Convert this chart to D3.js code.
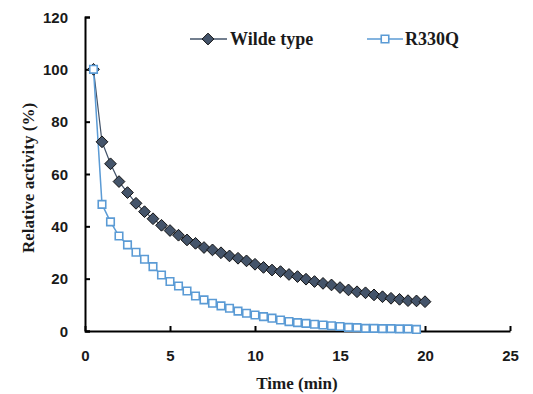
<!DOCTYPE html>
<html>
<head>
<meta charset="utf-8">
<script src="https://cdn.jsdelivr.net/npm/d3@7"></script>
<style>
  body { margin: 0; background: #fff; }
  .tick text { font-family: "Liberation Sans", Arial, sans-serif; font-weight: bold; font-size: 15px; fill: #1a1a1a; }
  .ttl { font-family: "Liberation Serif", "Times New Roman", serif; font-weight: bold; font-size: 17px; fill: #1a1a1a; }
  .leg { font-family: "Liberation Serif", "Times New Roman", serif; font-weight: bold; font-size: 18px; fill: #1a1a1a; }
</style>
</head>
<body>
<div id="chart"></div>
<script>
let w = 533;
let h = 394;

// time points (min)
let timeWT = [0.5,1,1.5,2,2.5,3,3.5,4,4.5,5,5.5,6,6.5,7,7.5,8,8.5,9,9.5,10,
              10.5,11,11.5,12,12.5,13,13.5,14,14.5,15,15.5,16,16.5,17,17.5,18,18.5,19,19.5,20];
let wildType = [100,72.3,63.9,57.1,52.9,48.8,45.6,42.9,40.4,38.4,36.6,34.8,33.5,31.9,31.0,29.9,28.7,27.8,26.8,25.5,
                24.3,23.3,22.7,21.6,20.8,19.8,18.9,18.2,17.6,16.6,15.7,15.0,14.6,13.8,13.1,12.5,12.1,11.6,11.5,11.2];

let timeMut = [0.5,1,1.5,2,2.5,3,3.5,4,4.5,5,5.5,6,6.5,7,7.5,8,8.5,9,9.5,10,
               10.5,11,11.5,12,12.5,13,13.5,14,14.5,15,15.5,16,16.5,17,17.5,18,18.5,19,19.5];
let r330q = [100,48.4,41.7,36.3,32.9,30.1,27.4,24.6,21.4,18.9,17.2,15.3,13.4,11.9,10.6,9.6,8.7,7.6,6.8,6.1,
             5.5,4.9,4.2,3.6,3.2,2.9,2.6,2.3,2.0,1.7,1.4,1.3,1.0,1.0,0.9,0.9,0.8,0.8,0.6];

let xTicks = [0,5,10,15,20,25];
let yTicks = [0,20,40,60,80,100,120];
let seriesNames = ["Wilde type", "R330Q"];

let wtColor = "#44546A";
let mutColor = "#5B9BD5";

let viz = d3.select("#chart")
  .append("svg")
    .attr("width", w)
    .attr("height", h)
;

let x = d3.scaleLinear().domain([0, 25]).range([85, 510]);
let y = d3.scaleLinear().domain([0, 120]).range([331, 17]);

// axes
let xAxis = viz.append("g")
  .attr("transform", "translate(0," + y(0) + ")")
  .call(d3.axisBottom(x).tickValues(xTicks).tickSizeInner(-5).tickSizeOuter(0).tickPadding(19));
let yAxis = viz.append("g")
  .attr("transform", "translate(" + x(0) + ",0)")
  .call(d3.axisLeft(y).tickValues(yTicks).tickSizeInner(-5).tickSizeOuter(-5).tickPadding(17));

[xAxis, yAxis].forEach(function(a) {
  a.select(".domain").attr("stroke", "#000").attr("stroke-width", 2);
  a.selectAll(".tick line").attr("stroke", "#000").attr("stroke-width", 2);
});
yAxis.selectAll(".tick text").attr("dy", "0.35em");

// lines
let line = d3.line()
  .x(function(d) { return x(d[0]); })
  .y(function(d) { return y(d[1]); });

let wtData = d3.zip(timeWT, wildType);
let mutData = d3.zip(timeMut, r330q);

viz.append("path")
  .attr("d", line(wtData))
  .attr("fill", "none")
  .attr("stroke", wtColor)
  .attr("stroke-width", 1.2);

viz.append("path")
  .attr("d", line(mutData))
  .attr("fill", "none")
  .attr("stroke", mutColor)
  .attr("stroke-width", 1.5);

// markers
let diamond = d3.symbol().type(d3.symbolDiamond2).size(88);
let square = d3.symbol().type(d3.symbolSquare2).size(72);

viz.append("g").selectAll("path")
  .data(wtData)
  .enter()
  .append("path")
    .attr("d", diamond)
    .attr("transform", function(d) { return "translate(" + x(d[0]) + "," + y(d[1]) + ")"; })
    .attr("fill", wtColor)
    .attr("stroke", "#111")
    .attr("stroke-width", 1);

viz.append("g").selectAll("path")
  .data(mutData)
  .enter()
  .append("path")
    .attr("d", square)
    .attr("transform", function(d) { return "translate(" + x(d[0]) + "," + y(d[1]) + ")"; })
    .attr("fill", "#fff")
    .attr("stroke", mutColor)
    .attr("stroke-width", 1.6);

// legend
let legend = viz.append("g");
legend.append("line").attr("x1", 190).attr("x2", 227).attr("y1", 39).attr("y2", 39)
  .attr("stroke", wtColor).attr("stroke-width", 1.5);
legend.append("path").attr("d", diamond).attr("transform", "translate(208,39)")
  .attr("fill", wtColor).attr("stroke", "#111");
legend.append("text").attr("class", "leg").attr("x", 230).attr("y", 45).text(seriesNames[0]);

legend.append("line").attr("x1", 367).attr("x2", 403).attr("y1", 39).attr("y2", 39)
  .attr("stroke", mutColor).attr("stroke-width", 1.5);
legend.append("path").attr("d", square).attr("transform", "translate(385,39)")
  .attr("fill", "#fff").attr("stroke", mutColor).attr("stroke-width", 1.6);
legend.append("text").attr("class", "leg").attr("x", 405).attr("y", 45).text(seriesNames[1]);

// axis titles
viz.append("text")
  .attr("class", "ttl")
  .attr("x", 297)
  .attr("y", 389)
  .attr("text-anchor", "middle")
  .text("Time (min)");

viz.append("text")
  .attr("class", "ttl")
  .attr("transform", "translate(34,178) rotate(-90)")
  .attr("text-anchor", "middle")
  .text("Relative activity (%)");
</script>
</body>
</html>
